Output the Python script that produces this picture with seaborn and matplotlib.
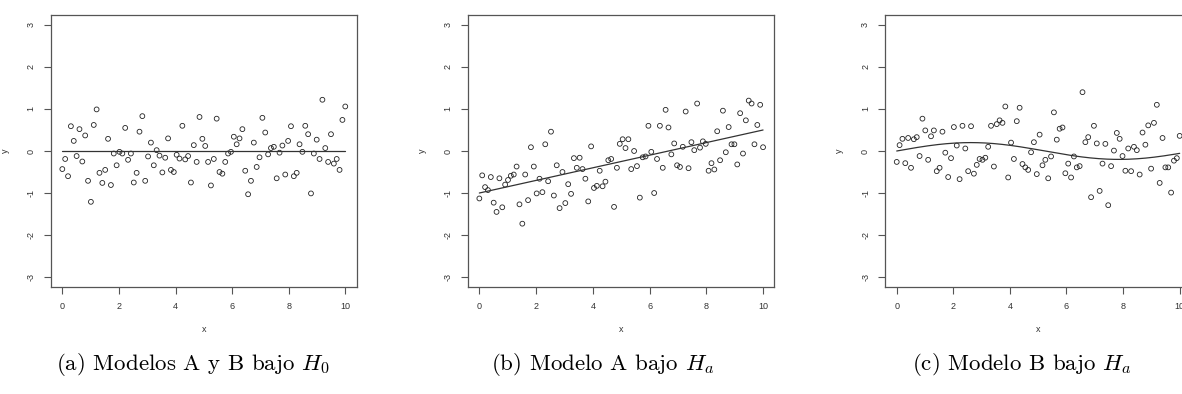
import numpy as np
import pandas as pd
import matplotlib
matplotlib.use("Agg")
import matplotlib.pyplot as plt
import seaborn as sns

# ---------------- data ----------------
x_vals = np.linspace(0, 10, 100)

y_a = [-0.43, -0.19, -0.60, 0.59, 0.24, -0.12, 0.52, -0.25, 0.37, -0.71,
       -1.21, 0.62, 0.99, -0.52, -0.76, -0.45, 0.29, -0.81, -0.06, -0.34,
       -0.02, -0.06, 0.55, -0.21, -0.06, -0.75, -0.52, 0.46, 0.83, -0.71,
       -0.13, 0.20, -0.34, 0.02, -0.11, -0.51, -0.16, 0.30, -0.45, -0.50,
       -0.09, -0.18, 0.60, -0.20, -0.12, -0.75, 0.14, -0.26, 0.81,
       0.29, 0.12, -0.26, -0.82, -0.19, 0.77, -0.50, -0.54, -0.26, -0.06, -0.02,
       0.34, 0.16, 0.30, 0.52, -0.47, -1.03, -0.71, 0.20, -0.38, -0.15,
       0.79, 0.44, -0.08, 0.07, 0.10, -0.65, -0.04, 0.13, -0.56, 0.24,
       0.59, -0.60, -0.52, 0.16, -0.02, 0.60, 0.40, -1.01, -0.06, 0.27,
       -0.19, 1.22, 0.07, -0.26, 0.40, -0.30, -0.19, -0.45, 0.74, 1.06]

y_b = [-1.13, -0.58, -0.86, -0.93, -0.62, -1.23, -1.45, -0.65, -1.34, -0.80,
       -0.69, -0.59, -0.56, -0.37, -1.27, -1.73, -0.56, -1.17, 0.09, -0.37,
       -1.01, -0.66, -0.98, 0.16, -0.72, 0.46, -1.06, -0.34, -1.36, -0.50,
       -1.24, -0.79, -1.02, -0.17, -0.40, -0.16, -0.43, -0.66, -1.20, 0.11,
       -0.88, -0.83, -0.47, -0.84, -0.73, -0.22, -0.19, -1.33,
       -0.40, 0.17, 0.28, 0.07, 0.28, -0.43, 0.00, -0.36, -1.11, -0.15,
       -0.13, 0.60, -0.02, -1.00, -0.19, 0.60, -0.40, 0.98, 0.56, -0.08,
       0.18, -0.34, -0.38, 0.10, 0.94, -0.41, 0.21, 0.02, 1.13, 0.08,
       0.23, 0.17, -0.47, -0.29, -0.44, 0.47, -0.22, 0.96, -0.03, 0.57,
       0.16, 0.16, -0.32, 0.90, -0.06, 0.73, 1.20, 1.13, 0.16, 0.62,
       1.10, 0.09]

y_c = [-0.26, 0.14, 0.29, -0.29, 0.31, -0.40, 0.28, 0.33, -0.12, 0.77,
       0.49, -0.21, 0.35, 0.49, -0.48, -0.40, 0.46, -0.04, -0.62, -0.17,
       0.57, 0.13, -0.67, 0.60, 0.06, -0.48, 0.59, -0.54, -0.33, -0.19,
       -0.21, -0.16, 0.10, 0.60, -0.37, 0.64, 0.73, 0.67, 1.06, -0.63,
       0.20, -0.19, 0.71, 1.03, -0.31, -0.39, -0.45, -0.03,
       0.21, -0.55, 0.39, -0.34, -0.21, -0.65, -0.13, 0.92, 0.27, 0.53,
       0.56, -0.53, -0.30, -0.63, -0.13, -0.39, -0.36, 1.40, 0.21, 0.33,
       -1.10, 0.60, 0.18, -0.95, -0.30, 0.17, -1.29, -0.36, 0.01, 0.43,
       0.29, -0.12, -0.47, 0.06, -0.48, 0.10, 0.02, -0.56, 0.44, 0.15,
       0.61, -0.42, 0.67, 1.10, -0.76, 0.31, -0.39, -0.39, -0.99, -0.23,
       -0.17, 0.36]

# model lines
line_a_x = [0, 10]
line_a_y = [0, 0]
line_b_x = [0, 10]
line_b_y = [-1.0, 0.5]
sine_amp = 0.2      # model B: amp * sin(freq * x)
sine_freq = 0.6

x_ticks = [0, 2, 4, 6, 8, 10]
x_tick_labels = ["0", "2", "4", "6", "8", "10"]
y_ticks = [-3, -2, -1, 0, 1, 2, 3]
y_tick_labels = ["-3", "-2", "-1", "0", "1", "2", "3"]

captions = [r"(a) Modelos A y B bajo $H_0$",
            r"(b) Modelo A bajo $H_a$",
            r"(c) Modelo B bajo $H_a$"]

# ---------------- style ----------------
sns.set_theme(style="white")
plt.rcParams["font.family"] = ["Liberation Sans", "DejaVu Sans"]
plt.rcParams["mathtext.fontset"] = "cm"

W, H = 1182, 394
fig = plt.figure(figsize=(W / 100, H / 100), dpi=100)
fig.patch.set_facecolor("white")

# axes boxes in pixel coordinates (left, right), shared top/bottom
boxes = [(51.0, 356.6), (468.0, 774.4), (885.4, 1191.0)]
top_px, bot_px = 14.9, 287.1
caption_x = [192.5, 603.0, 1022.0]

sine_x = np.linspace(0, 10, 200)
line_sets = [
    (line_a_x, line_a_y),
    (line_b_x, line_b_y),
    (sine_x, sine_amp * np.sin(sine_freq * sine_x)),
]
ys = [y_a, y_b, y_c]

box_col = "#555555"
for i, ((l, r), yv, (lx, ly)) in enumerate(zip(boxes, ys, line_sets)):
    ax = fig.add_axes([l / W, (H - bot_px) / H, (r - l) / W, (bot_px - top_px) / H])
    ax.set_facecolor("white")
    df = pd.DataFrame({"x": x_vals, "y": yv})
    sns.scatterplot(data=df, x="x", y="y", ax=ax, marker="o", s=12,
                    facecolor="none", edgecolor="#222222", linewidth=0.6)
    ldf = pd.DataFrame({"x": lx, "y": ly})
    sns.lineplot(data=ldf, x="x", y="y", ax=ax, color="#333333", linewidth=0.9)
    ax.set_xlim(-0.4, 10.4)
    ax.set_ylim(-3.24, 3.24)
    ax.set_xticks(x_ticks)
    ax.set_xticklabels(x_tick_labels)
    ax.set_yticks(y_ticks)
    ax.set_yticklabels(y_tick_labels, rotation=90, va="center")
    ax.tick_params(axis="both", which="major", length=5, width=0.8,
                   color=box_col, labelsize=6.5, labelcolor="#333333",
                   direction="out", bottom=True, left=True, pad=6)
    for sp in ax.spines.values():
        sp.set_color(box_col)
        sp.set_linewidth(0.9)
    ax.set_xlabel("x", fontsize=6.5, color="#333333", labelpad=10)
    ax.set_ylabel("y", fontsize=6.5, color="#333333", labelpad=12)
    fig.text(caption_x[i] / W, (H - 369.5) / H, captions[i], ha="center",
             va="baseline", fontsize=16.5, family="cmr10", color="black")

fig.savefig("out.png", dpi=100, facecolor="white")
